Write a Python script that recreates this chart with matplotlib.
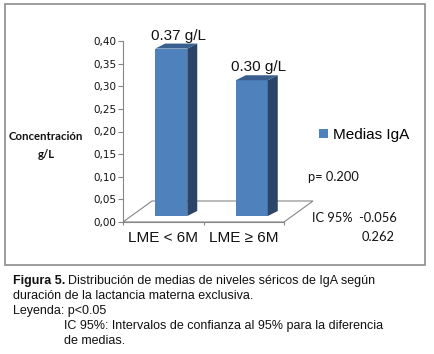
import numpy as np
import matplotlib.pyplot as plt
from matplotlib.patches import Polygon, Rectangle, Patch
from matplotlib.ticker import FuncFormatter

W, H = 435, 354

###--- Data ---###
categorias = ["LME < 6M", "LME \u2265 6M"]
medias = [0.37, 0.30]
serie = "Medias IgA"
p_valor = 0.200
ic_bajo = -0.056
ic_alto = 0.262
yticks = np.arange(0, 0.401, 0.05)

c_front = "#4F81BD"
c_side = "#2B4468"
c_top = "#3A5F8E"
c_axis = "#868686"
c_txt = "#111111"


def px(x, y):
    # pixel position -> figure fraction
    return x / W, 1 - y / H


fig = plt.figure(figsize=(W / 100, H / 100), dpi=100)

# outer frame
fig.patches.append(Rectangle(px(5, 265), 420 / W, 261 / H, transform=fig.transFigure,
                             fill=False, ec="#8c8c8c", lw=1.2))

ax = fig.add_axes([123 / W, 1 - 222 / H, 161 / W, 181 / H])
ax.set_xlim(-0.5, 1.5)
ax.set_ylim(0, 0.40)
ax.patch.set_alpha(0)

ux = 2 / 161      # one pixel in x data units
uy = 0.4 / 181    # one pixel in y data units

### floor (3D look)
dfx, dfy = 29 * ux, 21 * uy
floor = [(-0.5, 0), (1.5, 0), (1.5 + dfx, dfy), (-0.5 + dfx, dfy)]
ax.add_patch(Polygon(floor, closed=True, fill=False, ec=c_axis, lw=0.8, clip_on=False, zorder=1))

### bars
bw = 32 * ux
bx = 8 * ux
by = 6 * uy
ddx, ddy = 10 * ux, 5 * uy
for i, v in enumerate(medias):
    x0 = i + bx - bw / 2
    x1 = x0 + bw
    y0, y1 = by, by + v
    ax.add_patch(Rectangle((x0, y0), bw, v, fc=c_front, ec="none", zorder=3, clip_on=False))
    ax.add_patch(Polygon([(x1, y0), (x1 + ddx, y0 + ddy), (x1 + ddx, y1 + ddy), (x1, y1)],
                         fc=c_side, ec="none", zorder=3, clip_on=False))
    ax.add_patch(Polygon([(x0, y1), (x1, y1), (x1 + ddx, y1 + ddy), (x0 + ddx, y1 + ddy)],
                         fc=c_top, ec="none", zorder=3, clip_on=False))
    ax.annotate(f"{v:.2f} g/L", (i + bx + ddx / 2, y1 + ddy), xytext=(2, 1),
                textcoords="offset pixels", ha="center", va="bottom",
                fontsize=11, family="Liberation Sans", color=c_txt, zorder=4)

### axes styling
for s in ["top", "right"]:
    ax.spines[s].set_visible(False)
for s in ["left", "bottom"]:
    ax.spines[s].set_color(c_axis)
    ax.spines[s].set_linewidth(0.8)

ax.set_yticks(yticks)
ax.yaxis.set_major_formatter(FuncFormatter(lambda v, p: f"{v:.2f}".replace(".", ",")))
ax.tick_params(axis="y", length=3.5, width=0.8, color=c_axis, pad=1, labelsize=7.5,
               labelcolor=c_txt)
for t in ax.get_yticklabels():
    t.set_family("DejaVu Sans")

ax.set_xticks([0, 1])
ax.set_xticklabels(categorias, fontsize=11, family="Liberation Sans", color=c_txt)
ax.set_xticks([-0.5, 0.5, 1.5], minor=True)
ax.tick_params(axis="x", which="major", length=0, pad=6.5)
ax.tick_params(axis="x", which="minor", length=2.5, width=0.8, color=c_axis)

### axis title
fig.text(*px(46, 136), "Concentración", ha="center", va="center", fontsize=8.2,
         family="Lato", weight="bold", color=c_txt)
fig.text(*px(46, 154), "g/L", ha="center", va="center", fontsize=8.2,
         family="Lato", weight="bold", color=c_txt)

### legend
fig.legend(handles=[Patch(fc=c_front, ec="none", label=serie)], loc="center left",
           bbox_to_anchor=px(319, 135), frameon=False, handlelength=0.6, handleheight=0.6,
           handletextpad=0.3, borderpad=0, borderaxespad=0,
           prop={"family": "Liberation Sans", "size": 11})

### stats
st = dict(ha="left", va="center", fontsize=9.3, family="Lato", color=c_txt)
fig.text(*px(308, 177), f"p= {p_valor:.3f}", **st)
fig.text(*px(312, 218), f"IC 95%  {ic_bajo:.3f}", **st)
fig.text(*px(362, 237), f"{ic_alto:.3f}", **st)

### caption
cap = dict(fontsize=9, family="Liberation Sans", color=c_txt, va="baseline", ha="left")
t0 = fig.text(*px(13, 284), "Figura 5.", weight="bold", **cap)
r = fig.canvas.get_renderer()
bb = t0.get_window_extent(r)
fig.text(bb.x1 / W + 3 / W, 1 - 284 / H,
         "Distribución de medias de niveles séricos de IgA según", **cap)
fig.text(*px(13, 299), "duración de la lactancia materna exclusiva.", **cap)
fig.text(*px(13, 314), "Leyenda: p<0.05", **cap)
fig.text(*px(64, 329), "IC 95%: Intervalos de confianza al 95% para la diferencia", **cap)
fig.text(*px(64, 344), "de medias.", **cap)

fig.savefig("out.png", dpi=100)
